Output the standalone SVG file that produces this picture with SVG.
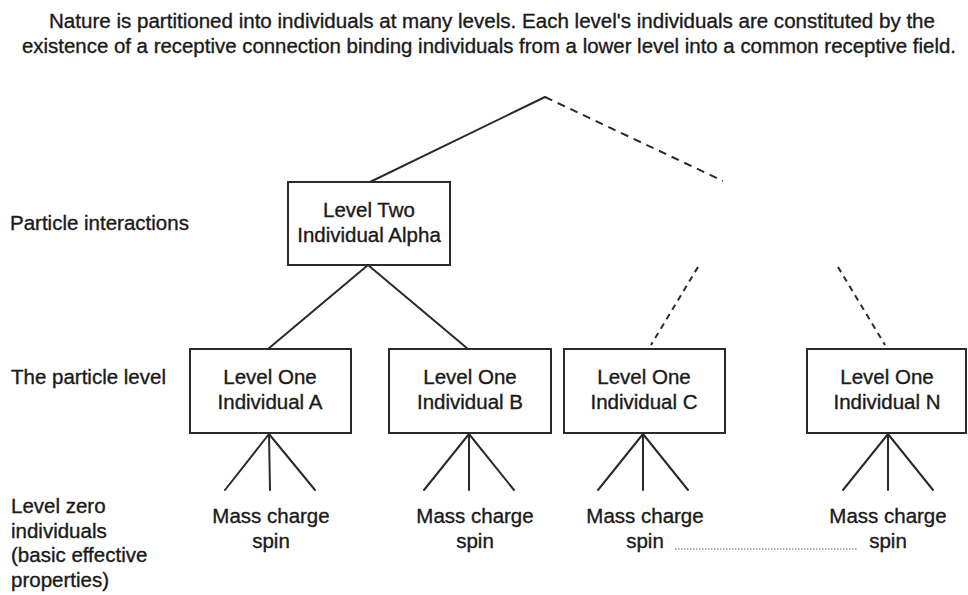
<svg xmlns="http://www.w3.org/2000/svg" width="968" height="595" viewBox="0 0 968 595">
  <style>
    text { font-family: "Liberation Sans", Arial, sans-serif; font-size: 20.5px; fill: #1a1a1a; stroke: #1a1a1a; stroke-width: 0.35px; }
    .c { text-anchor: middle; }
    .box { fill: #ffffff; stroke: #2a2a2a; stroke-width: 2; }
    .solid { stroke: #2a2a2a; stroke-width: 2; fill: none; stroke-linecap: round; }
    .dash-long { stroke: #2a2a2a; stroke-width: 2; fill: none; stroke-dasharray: 8 6; }
    .dash-short { stroke: #2a2a2a; stroke-width: 2; fill: none; stroke-dasharray: 6 5; }
    .dots { stroke: #666666; stroke-width: 1; fill: none; stroke-dasharray: 1.5 1.5; }
  </style>
  <rect width="968" height="595" fill="#ffffff"/>

  <!-- caption -->
  <g id="caption">
    <text x="49" y="28" textLength="886" lengthAdjust="spacingAndGlyphs">Nature is partitioned into individuals at many levels. Each level's individuals are constituted by the</text>
    <text x="22" y="53" textLength="934" lengthAdjust="spacingAndGlyphs">existence of a receptive connection binding individuals from a lower level into a common receptive field.</text>
  </g>

  <!-- level labels on the left -->
  <g id="level-labels">
    <text x="10" y="230">Particle interactions</text>
    <text x="11" y="384">The particle level</text>
    <text x="11" y="513">Level zero</text>
    <text x="11" y="538">individuals</text>
    <text x="11" y="562">(basic effective</text>
    <text x="11" y="587">properties)</text>
  </g>

  <!-- connectors -->
  <g id="connectors">
    <!-- upper level -->
    <line class="solid" x1="545" y1="97" x2="370" y2="182"/>
    <line class="dash-long" x1="545" y1="97" x2="723" y2="181"/>
    <!-- level two to level one -->
    <line class="solid" x1="368" y1="265" x2="268" y2="349"/>
    <line class="solid" x1="368" y1="265" x2="468" y2="349"/>
    <line class="dash-short" x1="698" y1="267" x2="651" y2="345"/>
    <line class="dash-short" x1="838" y1="267" x2="885" y2="345"/>
    <!-- level one to level zero fans -->
    <path class="solid" d="M269 434 L225 490 M269 434 L270 490 M269 434 L315 490"/>
    <path class="solid" d="M469 434 L424 490 M469 434 L469 490 M469 434 L514 490"/>
    <path class="solid" d="M643 434 L598 490 M643 434 L643 490 M643 434 L688 490"/>
    <path class="solid" d="M888 434 L843 490 M888 434 L888 490 M888 434 L933 490"/>
    <!-- continuation between level zero groups -->
    <line class="dots" x1="675" y1="549" x2="858" y2="549"/>
  </g>

  <!-- level two -->
  <g id="node-alpha">
    <rect class="box" x="288" y="182" width="162" height="83"/>
    <text class="c" x="369" y="217">Level Two</text>
    <text class="c" x="369" y="242">Individual Alpha</text>
  </g>

  <!-- level one -->
  <g id="node-a">
    <rect class="box" x="190" y="349" width="161" height="84"/>
    <text class="c" x="270" y="384">Level One</text>
    <text class="c" x="270" y="409">Individual A</text>
  </g>
  <g id="node-b">
    <rect class="box" x="389" y="349" width="162" height="84"/>
    <text class="c" x="470" y="384">Level One</text>
    <text class="c" x="470" y="409">Individual B</text>
  </g>
  <g id="node-c">
    <rect class="box" x="564" y="349" width="161" height="84"/>
    <text class="c" x="644" y="384">Level One</text>
    <text class="c" x="644" y="409">Individual C</text>
  </g>
  <g id="node-n">
    <rect class="box" x="807" y="349" width="159" height="84"/>
    <text class="c" x="887" y="384">Level One</text>
    <text class="c" x="887" y="409">Individual N</text>
  </g>

  <!-- level zero -->
  <g id="props-a">
    <text class="c" x="271" y="523">Mass charge</text>
    <text class="c" x="271" y="548">spin</text>
  </g>
  <g id="props-b">
    <text class="c" x="475" y="523">Mass charge</text>
    <text class="c" x="475" y="548">spin</text>
  </g>
  <g id="props-c">
    <text class="c" x="645" y="523">Mass charge</text>
    <text class="c" x="645" y="548">spin</text>
  </g>
  <g id="props-n">
    <text class="c" x="888" y="523">Mass charge</text>
    <text class="c" x="888" y="548">spin</text>
  </g>
</svg>
